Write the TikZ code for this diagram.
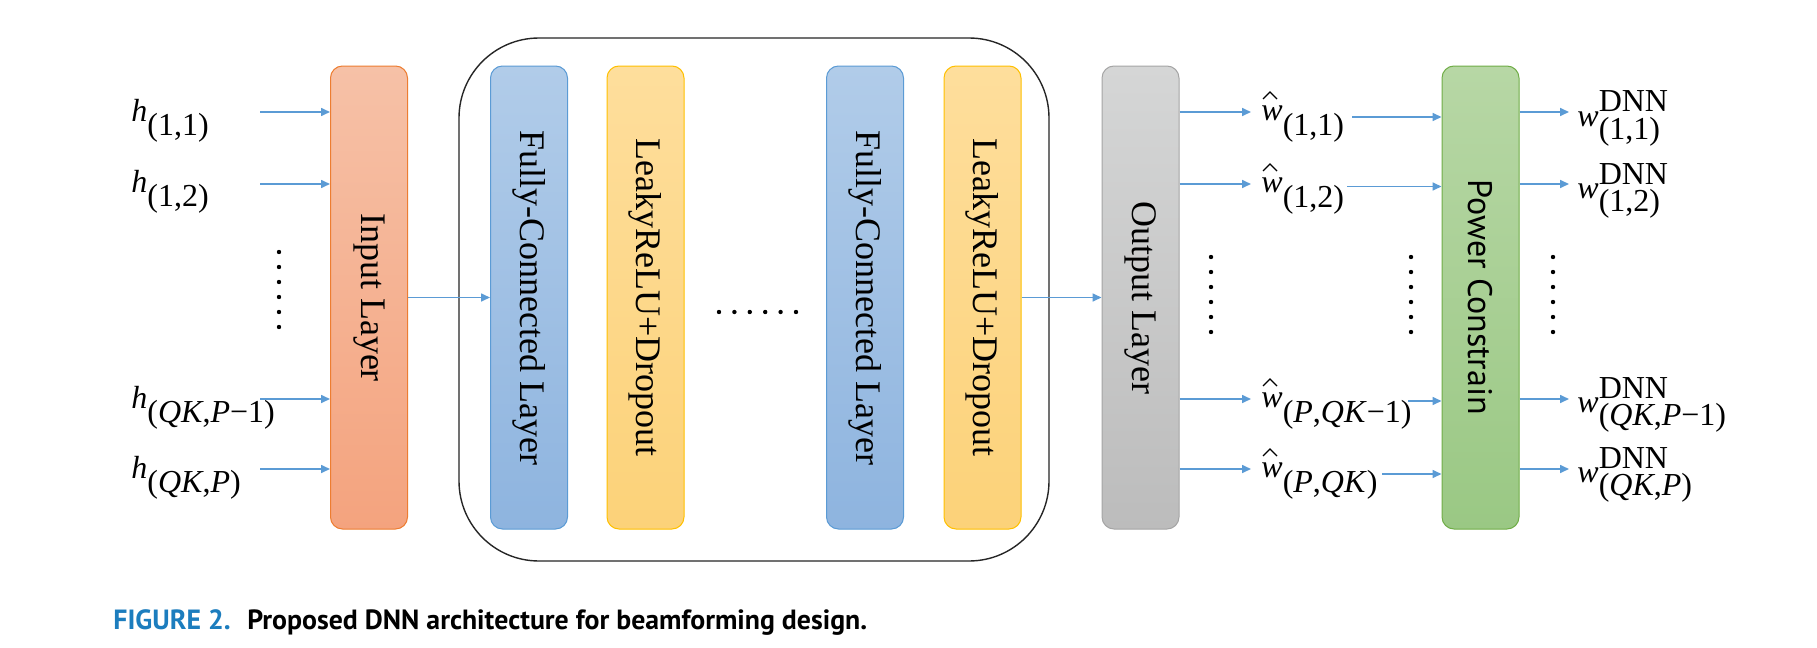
\documentclass[tikz,border=0pt]{standalone}
\usepackage{graphicx}
\usepackage{fontspec}
\setmainfont{Liberation Serif}
\newfontfamily\pcfont{PT Sans}
\newfontfamily\capfont{PT Sans}
\usetikzlibrary{arrows.meta}
\definecolor{arrc}{RGB}{91,155,213}
\definecolor{inT}{RGB}{246,193,167}
\definecolor{inBo}{RGB}{244,163,126}
\definecolor{inB}{RGB}{237,125,49}
\definecolor{fcT}{RGB}{177,204,233}
\definecolor{fcBo}{RGB}{142,180,223}
\definecolor{fcB}{RGB}{91,155,213}
\definecolor{lrT}{RGB}{254,222,156}
\definecolor{lrBo}{RGB}{252,210,121}
\definecolor{lrB}{RGB}{255,192,0}
\definecolor{ouT}{RGB}{213,214,214}
\definecolor{ouBo}{RGB}{188,188,188}
\definecolor{ouB}{RGB}{165,165,165}
\definecolor{pwT}{RGB}{183,215,165}
\definecolor{pwBo}{RGB}{154,200,132}
\definecolor{pwB}{RGB}{112,173,71}
\definecolor{capblue}{RGB}{28,125,190}
\newcommand{\hlab}[1]{\textit{h}\raisebox{-7pt}{#1}}
\newcommand{\whlab}[1]{\textit{w}\raisebox{-7.5pt}{#1}}
\newcommand{\wdlab}[1]{\textit{w}\rlap{\raisebox{7pt}{DNN}}\raisebox{-6.5pt}{#1}}
\tikzset{
  layer/.style={rounded corners=6pt, minimum width=38.5pt, minimum height=231.5pt,
    inner sep=0pt, line width=0.5pt, font=\fontsize{18}{20}\selectfont},
  inlayer/.style={layer, draw=inB, top color=inT, bottom color=inBo},
  fclayer/.style={layer, draw=fcB, top color=fcT, bottom color=fcBo},
  lrlayer/.style={layer, draw=lrB, top color=lrT, bottom color=lrBo},
  oulayer/.style={layer, draw=ouB, top color=ouT, bottom color=ouBo},
  pwlayer/.style={layer, draw=pwB, top color=pwT, bottom color=pwBo},
  arr/.style={draw=arrc, line width=0.8pt, -{Triangle[length=4.5pt,width=4pt]}},
  lab/.style={font=\fontsize{16}{18}\selectfont, inner sep=0pt, anchor=base west},
  hatline/.style={line width=0.6pt, line join=miter},
  dotc/.style={fill=black}
}
\begin{document}
\begin{tikzpicture}[x=0.5pt,y=-0.5pt]
\fill[white] (0,0) rectangle (1817,648);
\useasboundingbox (0,0) rectangle (1817,648);

% group frame
\node[draw=black!85, rounded corners=40pt, minimum width=295pt, minimum height=261.5pt,
  line width=0.7pt, inner sep=0pt] (grp) at (754,299.5) {};

% layers
\node[inlayer] (inp) at (369,297.5) {\rotatebox{-90}{Input Layer}};
\node[fclayer] (fc1) at (529,297.5) {\rotatebox{-90}{Fully-Connected Layer}};
\node[lrlayer] (lr1) at (645.5,297.5) {\rotatebox{-90}{LeakyReLU+Dropout}};
\node[fclayer] (fc2) at (865,297.5) {\rotatebox{-90}{Fully-Connected Layer}};
\node[lrlayer] (lr2) at (982.5,297.5) {\rotatebox{-90}{LeakyReLU+Dropout}};
\node[oulayer] (out) at (1140.5,297.5) {\rotatebox{-90}{Output Layer}};
\node[pwlayer, font=\pcfont\fontsize{17}{19}\selectfont] (pow) at (1480.5,297.5) {\rotatebox{-90}{Power Constrain}};

% input labels
\node[lab] (h1) at (131,121) {\hlab{(1,1)}};
\node[lab] (h2) at (131,192) {\hlab{(1,2)}};
\node[lab] (h3) at (131,408) {\hlab{(\textit{QK},\textit{P}−1)}};
\node[lab] (h4) at (131,478) {\hlab{(\textit{QK},\textit{P})}};

\coordinate (ha1) at (260,112);
\coordinate (ha2) at (260,184);
\coordinate (ha3) at (260,399);
\coordinate (ha4) at (260,469);
\foreach \i in {1,...,4}{\draw[arr] (ha\i) -- (ha\i -| inp.west);}

% chain arrows
\draw[arr] (inp.east) -- (fc1.west);
\draw[arr] (lr2.east) -- (out.west);

% output arrows
\coordinate (oa1) at (1251,112);
\coordinate (oa2) at (1251,184);
\coordinate (oa3) at (1251,399);
\coordinate (oa4) at (1251,469);
\foreach \i in {1,...,4}{\draw[arr] (oa\i -| out.east) -- (oa\i);}

\node[lab] (w1) at (1261,120) {\whlab{(1,1)}};
\node[lab] (w2) at (1261,192) {\whlab{(1,2)}};
\node[lab] (w3) at (1261,407) {\whlab{(\textit{P},\textit{QK}−1)}};
\node[lab] (w4) at (1261,477) {\whlab{(\textit{P},\textit{QK})}};
\foreach \i in {1,...,4}{
  \draw[hatline] ([shift={(2,-21)}]w\i.base west) -- ++(7,-7) -- ++(7,7);
}

\coordinate (pa1) at (1352,117);
\coordinate (pa2) at (1347,186.5);
\coordinate (pa3) at (1408,401);
\coordinate (pa4) at (1382,474);
\foreach \i in {1,...,4}{\draw[arr] (pa\i) -- (pa\i -| pow.west);}

% power outputs
\coordinate (qa1) at (1569,112);
\coordinate (qa2) at (1569,184);
\coordinate (qa3) at (1569,399);
\coordinate (qa4) at (1569,469);
\foreach \i in {1,...,4}{\draw[arr] (qa\i -| pow.east) -- (qa\i);}

\node[lab] (d1) at (1577,126) {\wdlab{(1,1)}};
\node[lab] (d2) at (1577,198) {\wdlab{(1,2)}};
\node[lab] (d3) at (1577,412) {\wdlab{(\textit{QK},\textit{P}−1)}};
\node[lab] (d4) at (1577,482) {\wdlab{(\textit{QK},\textit{P})}};

% dots
\foreach \k in {0,...,5}{
  \fill[dotc] (279,252+15*\k) circle (1.1pt);
  \fill[dotc] (1211,257+15*\k) circle (1.1pt);
  \fill[dotc] (1411,257+15*\k) circle (1.1pt);
  \fill[dotc] (1553,257+15*\k) circle (1.1pt);
  \fill[dotc] (719+15.4*\k,312) circle (1.1pt);
}

% caption
\node[anchor=base west, inner sep=0pt, font=\capfont\bfseries\fontsize{13.9}{16}\selectfont] (cap) at (113,629)
  {\textcolor{capblue}{FIGURE 2.}\hspace{0.6em}Proposed DNN architecture for beamforming design.};
\end{tikzpicture}
\end{document}
